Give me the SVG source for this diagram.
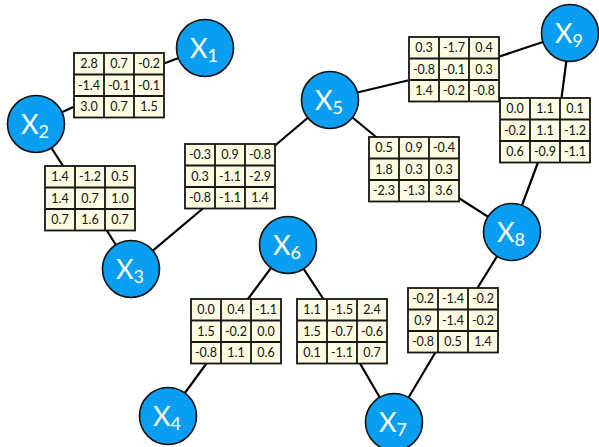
<svg xmlns="http://www.w3.org/2000/svg" width="599" height="447" viewBox="0 0 599 447">
  <style>
    .edge { stroke: #000; stroke-width: 2.2; fill: none; stroke-linecap: round; }
    .node circle { fill: #0a9ef2; stroke: #111; stroke-width: 1.6; }
    .node text { font-family: Lato, "Open Sans", "DejaVu Sans", sans-serif; font-size: 27px; fill: #fff; text-anchor: middle; }
    .node tspan { font-size: 18px; }
    .tbl text { font-family: Lato, "Open Sans", "DejaVu Sans", sans-serif; font-size: 12.5px; fill: #111; text-anchor: middle; }
  </style>
  <defs>
    <!-- 3x3 grid of cells, 30 x 21.5 each -->
    <g id="grid" stroke="#161616" stroke-width="1.8">
      <rect x="0" y="0" width="90" height="64.5" fill="#fdfbe1"/>
      <line x1="30" y1="0" x2="30" y2="64.5"/>
      <line x1="60" y1="0" x2="60" y2="64.5"/>
      <line x1="0" y1="21.5" x2="90" y2="21.5"/>
      <line x1="0" y1="43" x2="90" y2="43"/>
    </g>
  </defs>

  <rect width="599" height="447" fill="#fff"/>

  <g id="connectors">
    <line class="edge" x1="205" y1="48" x2="160" y2="65"/>
    <line class="edge" x1="36" y1="124" x2="80" y2="104"/>
    <line class="edge" x1="36" y1="124" x2="65" y2="169"/>
    <line class="edge" x1="131" y1="269" x2="104" y2="226"/>
    <line class="edge" x1="131" y1="269" x2="207" y2="205"/>
    <line class="edge" x1="330" y1="99" x2="265" y2="154"/>
    <line class="edge" x1="330" y1="99" x2="414" y2="79"/>
    <line class="edge" x1="570" y1="33" x2="492" y2="59"/>
    <line class="edge" x1="570" y1="33" x2="561" y2="102"/>
    <line class="edge" x1="512" y1="232" x2="540" y2="157"/>
    <line class="edge" x1="330" y1="99" x2="381" y2="141"/>
    <line class="edge" x1="512" y1="232" x2="454" y2="195"/>
    <line class="edge" x1="288" y1="245" x2="245" y2="303"/>
    <line class="edge" x1="288" y1="245" x2="326" y2="303"/>
    <line class="edge" x1="168" y1="416" x2="209" y2="360"/>
    <line class="edge" x1="394" y1="422" x2="358" y2="360"/>
    <line class="edge" x1="394" y1="422" x2="438" y2="348"/>
    <line class="edge" x1="512" y1="232" x2="475" y2="292"/>
  </g>

  <!-- potential tables -->
  <g id="t12" class="tbl" transform="translate(74,53)">
    <use href="#grid"/>
    <text x="15" y="15">2.8</text><text x="45" y="15">0.7</text><text x="75" y="15">-0.2</text>
    <text x="15" y="36.5">-1.4</text><text x="45" y="36.5">-0.1</text><text x="75" y="36.5">-0.1</text>
    <text x="15" y="58">3.0</text><text x="45" y="58">0.7</text><text x="75" y="58">1.5</text>
  </g>
  <g id="t23" class="tbl" transform="translate(45,166)">
    <use href="#grid"/>
    <text x="15" y="15">1.4</text><text x="45" y="15">-1.2</text><text x="75" y="15">0.5</text>
    <text x="15" y="36.5">1.4</text><text x="45" y="36.5">0.7</text><text x="75" y="36.5">1.0</text>
    <text x="15" y="58">0.7</text><text x="45" y="58">1.6</text><text x="75" y="58">0.7</text>
  </g>
  <g id="t35" class="tbl" transform="translate(185,144)">
    <use href="#grid"/>
    <text x="15" y="15">-0.3</text><text x="45" y="15">0.9</text><text x="75" y="15">-0.8</text>
    <text x="15" y="36.5">0.3</text><text x="45" y="36.5">-1.1</text><text x="75" y="36.5">-2.9</text>
    <text x="15" y="58">-0.8</text><text x="45" y="58">-1.1</text><text x="75" y="58">1.4</text>
  </g>
  <g id="t64" class="tbl" transform="translate(191,299)">
    <use href="#grid"/>
    <text x="15" y="15">0.0</text><text x="45" y="15">0.4</text><text x="75" y="15">-1.1</text>
    <text x="15" y="36.5">1.5</text><text x="45" y="36.5">-0.2</text><text x="75" y="36.5">0.0</text>
    <text x="15" y="58">-0.8</text><text x="45" y="58">1.1</text><text x="75" y="58">0.6</text>
  </g>
  <g id="t67" class="tbl" transform="translate(297,299)">
    <use href="#grid"/>
    <text x="15" y="15">1.1</text><text x="45" y="15">-1.5</text><text x="75" y="15">2.4</text>
    <text x="15" y="36.5">1.5</text><text x="45" y="36.5">-0.7</text><text x="75" y="36.5">-0.6</text>
    <text x="15" y="58">0.1</text><text x="45" y="58">-1.1</text><text x="75" y="58">0.7</text>
  </g>
  <g id="t87" class="tbl" transform="translate(408,288)">
    <use href="#grid"/>
    <text x="15" y="15">-0.2</text><text x="45" y="15">-1.4</text><text x="75" y="15">-0.2</text>
    <text x="15" y="36.5">0.9</text><text x="45" y="36.5">-1.4</text><text x="75" y="36.5">-0.2</text>
    <text x="15" y="58">-0.8</text><text x="45" y="58">0.5</text><text x="75" y="58">1.4</text>
  </g>
  <g id="t59" class="tbl" transform="translate(409,37)">
    <use href="#grid"/>
    <text x="15" y="15">0.3</text><text x="45" y="15">-1.7</text><text x="75" y="15">0.4</text>
    <text x="15" y="36.5">-0.8</text><text x="45" y="36.5">-0.1</text><text x="75" y="36.5">0.3</text>
    <text x="15" y="58">1.4</text><text x="45" y="58">-0.2</text><text x="75" y="58">-0.8</text>
  </g>
  <g id="t98" class="tbl" transform="translate(500,98)">
    <use href="#grid"/>
    <text x="15" y="15">0.0</text><text x="45" y="15">1.1</text><text x="75" y="15">0.1</text>
    <text x="15" y="36.5">-0.2</text><text x="45" y="36.5">1.1</text><text x="75" y="36.5">-1.2</text>
    <text x="15" y="58">0.6</text><text x="45" y="58">-0.9</text><text x="75" y="58">-1.1</text>
  </g>
  <g id="t58" class="tbl" transform="translate(369,137)">
    <use href="#grid"/>
    <text x="15" y="15">0.5</text><text x="45" y="15">0.9</text><text x="75" y="15">-0.4</text>
    <text x="15" y="36.5">1.8</text><text x="45" y="36.5">0.3</text><text x="75" y="36.5">0.3</text>
    <text x="15" y="58">-2.3</text><text x="45" y="58">-1.3</text><text x="75" y="58">3.6</text>
  </g>

  <!-- variable nodes -->
  <g id="x1" class="node"><circle cx="205" cy="48" r="28.5"/><text x="204" y="57.5">X<tspan dy="4">1</tspan></text></g>
  <g id="x2" class="node"><circle cx="36" cy="124" r="28.5"/><text x="35" y="133.5">X<tspan dy="4">2</tspan></text></g>
  <g id="x3" class="node"><circle cx="131" cy="269" r="28.5"/><text x="130" y="278.5">X<tspan dy="4">3</tspan></text></g>
  <g id="x4" class="node"><circle cx="168" cy="416" r="28.5"/><text x="167" y="425.5">X<tspan dy="4">4</tspan></text></g>
  <g id="x5" class="node"><circle cx="330" cy="100" r="28.5"/><text x="329" y="109.5">X<tspan dy="4">5</tspan></text></g>
  <g id="x6" class="node"><circle cx="288" cy="245" r="28.5"/><text x="287" y="254.5">X<tspan dy="4">6</tspan></text></g>
  <g id="x7" class="node"><circle cx="394" cy="422" r="28.5"/><text x="393" y="431.5">X<tspan dy="4">7</tspan></text></g>
  <g id="x8" class="node"><circle cx="512" cy="232" r="28.5"/><text x="511" y="241.5">X<tspan dy="4">8</tspan></text></g>
  <g id="x9" class="node"><circle cx="570" cy="33" r="28.5"/><text x="569" y="42.5">X<tspan dy="4">9</tspan></text></g>
</svg>
